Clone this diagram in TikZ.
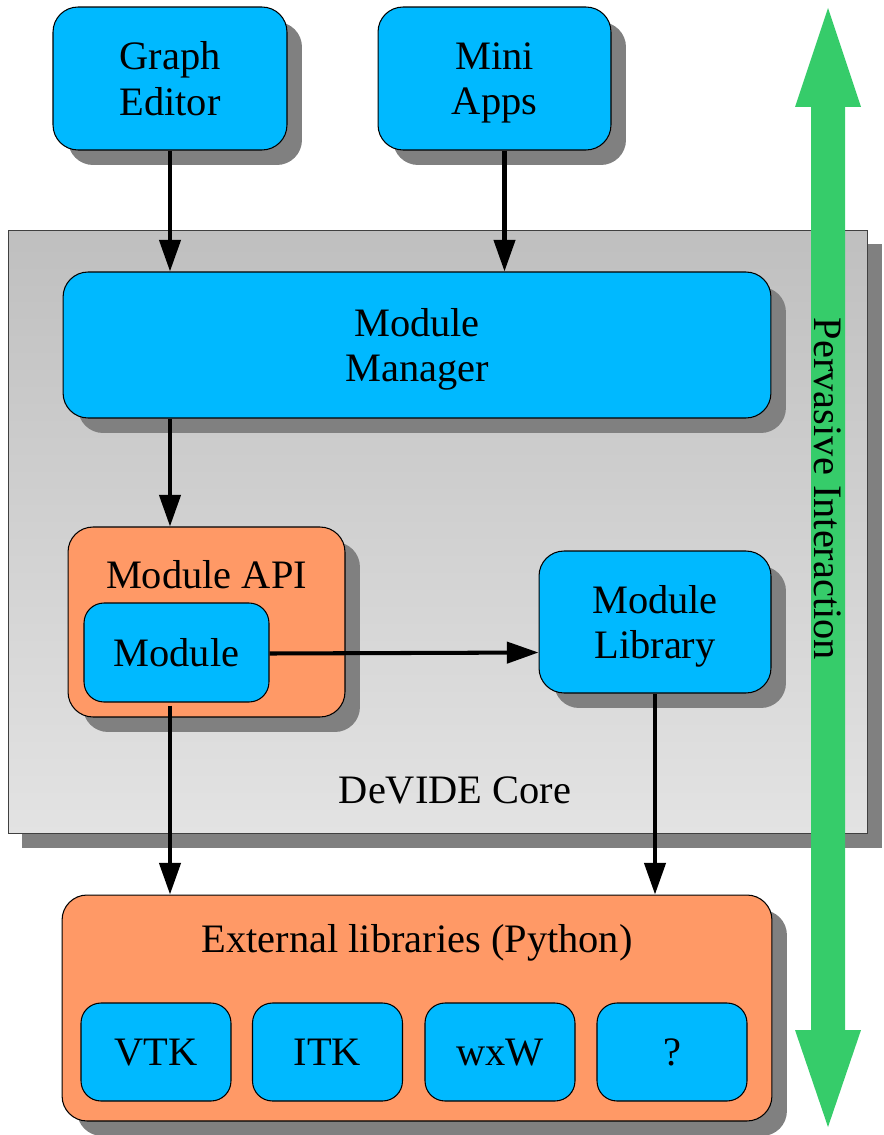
\documentclass[tikz,border=0pt]{standalone}
\usepackage{fontspec}
\setmainfont{Liberation Serif}
\usepackage{tikz}
\usetikzlibrary{calc}
\usetikzlibrary{shadows}
\usetikzlibrary{arrows.meta}
\definecolor{boxblue}{RGB}{0,185,255}
\definecolor{boxorange}{RGB}{255,153,102}
\definecolor{arrowgreen}{RGB}{54,204,106}
\definecolor{shadowgray}{RGB}{128,128,128}
\newcommand{\lnstrut}{\rule[-4.8pt]{0pt}{25.5pt}}
\tikzset{
  shade box/.style={drop shadow={shadow xshift=0.3cm, shadow yshift=-0.3cm, fill=shadowgray, opacity=1}},
  bluebox/.style={draw, line width=0.6pt, fill=boxblue, rounded corners=0.5cm, align=center, inner sep=0pt},
  orangebox/.style={draw, line width=0.6pt, fill=boxorange, rounded corners=0.5cm, inner sep=0pt},
  arr/.style={line width=2.3pt, -{Triangle[length=18pt,width=12pt]}},
  every node/.style={font=\fontsize{23}{25.5}\selectfont},
}

\begin{document}
\begin{tikzpicture}[x=0.02cm, y=-0.02cm]
            \useasboundingbox (0,0) rectangle (884,1135);

            % core
            \node[draw=black!75, line width=0.6pt, top color=black!25, bottom color=black!11,
                  minimum width=17.2cm, minimum height=12.08cm, inner sep=0pt,
                  drop shadow={shadow xshift=0.28cm, shadow yshift=-0.28cm, fill=shadowgray, opacity=1}] (core) at (438,532) {};
            \node (coret) at (455,790) {DeVIDE Core};

            % top tools
            \node[bluebox, shade box, minimum width=4.68cm, minimum height=2.86cm] (ge) at (170,78.5) {Graph\lnstrut\\Editor\lnstrut};
            \node[bluebox, shade box, minimum width=4.66cm, minimum height=2.86cm] (ma) at (494.5,78.5) {Mini\lnstrut\\Apps\lnstrut};

            \node[bluebox, shade box, minimum width=14.16cm, minimum height=2.92cm] (mm) at (417,345) {Module\lnstrut\\Manager\lnstrut};

            \node[orangebox, shade box, minimum width=5.54cm, minimum height=3.8cm] (api) at (206.5,622) {};
            \node (apit) at (206.5,575) {Module API};
            \node[bluebox, rounded corners=0.4cm, minimum width=3.7cm, minimum height=1.98cm] (mod) at (176.5,652.5) {Module\lnstrut};

            \node[bluebox, shade box, minimum width=4.64cm, minimum height=2.84cm] (lib) at (655,622) {Module\lnstrut\\Library\lnstrut};

            % external
            \node[orangebox, shade box, minimum width=14.2cm, minimum height=4.52cm] (ext) at (417,1008) {};
            \node (extt) at (417,943) {External libraries (Python)};
            \node[bluebox, rounded corners=0.4cm, minimum width=3cm, minimum height=1.96cm] (vtk) at (156,1052) {VTK\lnstrut};
            \node[bluebox, rounded corners=0.4cm, minimum width=3cm, minimum height=1.96cm] (itk) at (327.5,1052) {ITK\lnstrut};
            \node[bluebox, rounded corners=0.4cm, minimum width=3cm, minimum height=1.96cm] (wxw) at (500,1052) {wxW\lnstrut};
            \node[bluebox, rounded corners=0.4cm, minimum width=3cm, minimum height=1.96cm] (unk) at (672,1052) {?\lnstrut};

            % arrows
            \draw[arr] (ge.south) -- (ge.south |- mm.north);
            \draw[arr] ([xshift=0.2cm]ma.south) -- ([xshift=0.2cm]ma.south |- mm.north);
            \draw[arr] (ge.south |- mm.south) -- (ge.south |- api.north);
            \draw[arr] ([yshift=-0.02cm]mod.east) -- (mod.east -| lib.west);
            \draw[arr] ([yshift=-0.06cm]ge.south |- mod.south) -- (ge.south |- ext.north);
            \draw[arr] (lib.south) -- (lib.south |- ext.north);

            % pervasive interaction
            \fill[arrowgreen] (828,8) -- (861,107) -- (845,107) -- (845,1030) -- (861,1030)
                -- (828,1127) -- (795,1030) -- (811,1030) -- (811,107) -- (795,107) -- cycle;
            \node[rotate=-90] (pi) at (828,489) {Pervasive Interaction};
\end{tikzpicture}
\end{document}
